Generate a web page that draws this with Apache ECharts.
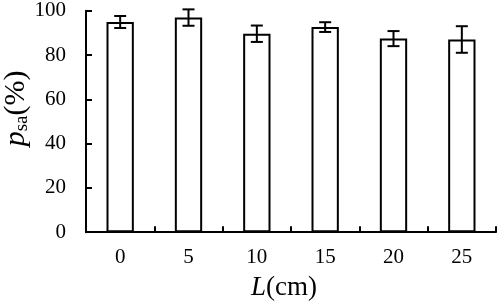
<!DOCTYPE html>
<html>
<head>
<meta charset="utf-8">
<script src="https://cdn.jsdelivr.net/npm/echarts@6/dist/echarts.min.js"></script>
<style>
html,body{margin:0;padding:0;background:#fff;}
#c{width:498px;height:306px;}
</style>
</head>
<body>
<div id="c"></div>
<script>
const categories = ['0', '5', '10', '15', '20', '25'];
const values = [94.9, 96.9, 89.6, 92.6, 87.4, 87.0];
const errors = [2.7, 3.7, 3.7, 2.2, 3.4, 6.0];
const yTicks = [0, 20, 40, 60, 80, 100];

const FONT = '"Liberation Serif", "Times New Roman", serif';
const chart = echarts.init(document.getElementById('c'), null, {renderer: 'canvas'});

const errData = values.map((v, i) => [i, v - errors[i], v + errors[i]]);

chart.setOption({
  animation: false,
  backgroundColor: '#fff',
  grid: {left: 86, right: 2, top: 10.7, bottom: 73.8, containLabel: false, outerBoundsMode: 'none'},
  xAxis: {
    type: 'category',
    data: categories,
    boundaryGap: true,
    name: '{i|L}{n|(cm)}',
    nameLocation: 'middle',
    nameGap: 42,
    nameMoveOverlap: false,
    nameTextStyle: {
      padding: [0, 14, 0, 0],
      rich: {
        i: {fontFamily: FONT, fontSize: 27, fontStyle: 'italic', color: '#000'},
        n: {fontFamily: FONT, fontSize: 27, color: '#000'}
      }
    },
    axisLine: {lineStyle: {color: '#000', width: 2}},
    axisTick: {show: true, inside: true, length: 6, alignWithLabel: false, interval: 0, lineStyle: {color: '#000', width: 2}},
    axisLabel: {fontFamily: FONT, fontSize: 21, color: '#000', margin: 15, interval: 0},
    splitLine: {show: false}
  },
  yAxis: {
    type: 'value',
    min: 0, max: 100, interval: 20,
    name: '{p|p}{s|sa}{n|(%)}',
    nameLocation: 'middle',
    nameGap: 54,
    nameMoveOverlap: false,
    nameRotate: 90,
    nameTextStyle: {
      padding: [0, 0, 0, 26],
      rich: {
        p: {fontFamily: FONT, fontSize: 30, fontStyle: 'italic', color: '#000'},
        s: {fontFamily: FONT, fontSize: 19, color: '#000', verticalAlign: 'bottom', padding: [12, 0, 0, 0]},
        n: {fontFamily: FONT, fontSize: 30, color: '#000'}
      }
    },
    axisLine: {show: true, lineStyle: {color: '#000', width: 2}},
    axisTick: {show: true, inside: true, length: 6, lineStyle: {color: '#000', width: 2}},
    axisLabel: {fontFamily: FONT, fontSize: 21, color: '#000', margin: 20,
      formatter: v => yTicks.includes(v) ? String(v) : ''},
    splitLine: {show: false}
  },
  series: [
    {
      type: 'bar',
      data: values,
      barWidth: '40%',
      itemStyle: {color: '#fff', borderColor: '#000', borderWidth: 2},
      z: 2
    },
    {
      type: 'custom',
      data: errData,
      clip: false,
      z: 5,
      renderItem: function (params, api) {
        const x = api.value(0);
        const lo = api.coord([x, api.value(1)]);
        const hi = api.coord([x, api.value(2)]);
        const hw = 6;
        const style = {stroke: '#000', lineWidth: 2};
        return {
          type: 'group',
          children: [
            {type: 'line', shape: {x1: lo[0], y1: lo[1], x2: hi[0], y2: hi[1]}, style},
            {type: 'line', shape: {x1: lo[0] - hw, y1: lo[1], x2: lo[0] + hw, y2: lo[1]}, style},
            {type: 'line', shape: {x1: hi[0] - hw, y1: hi[1], x2: hi[0] + hw, y2: hi[1]}, style}
          ]
        };
      }
    }
  ]
});
</script>
</body>
</html>
